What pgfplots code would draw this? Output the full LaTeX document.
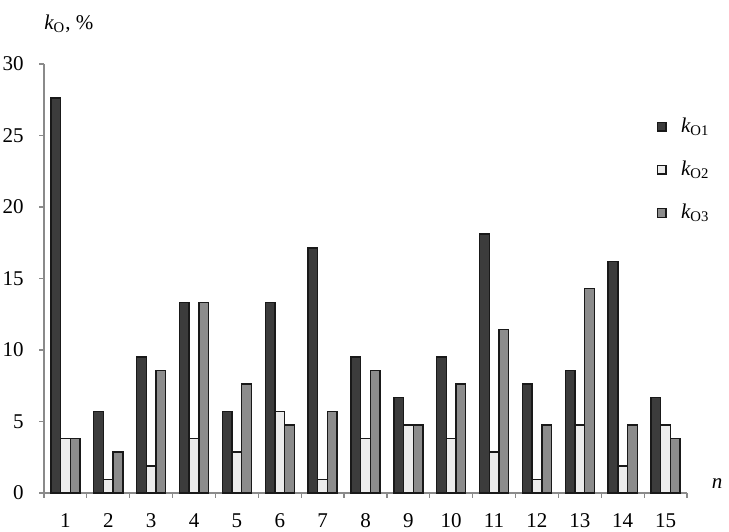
\documentclass[border=0pt]{standalone}
\usepackage{fontspec}
\setmainfont{Liberation Serif}
\usepackage{pgfplots}
\pgfplotsset{compat=1.18}
\definecolor{barA}{HTML}{3C3C3C}
\definecolor{barB}{HTML}{ECECEC}
\definecolor{barC}{HTML}{8C8C8C}
\definecolor{axisgray}{HTML}{8A8A8A}

\begin{document}
\begin{tikzpicture}
\begin{axis}[
  scale only axis,
  width=321.5pt, height=214.5pt,
  font=\fontsize{10.5}{12}\selectfont,
  /pgf/number format/assume math mode=true,
  xmin=0.5, xmax=15.5,
  ymin=0, ymax=30,
  ytick={0,5,...,30},
  xtick={0.5,1.5,...,15.5},
  x tick label as interval,
  xticklabels={1,2,3,4,5,6,7,8,9,10,11,12,13,14,15},
  axis lines*=left,
  axis line style={draw=axisgray, line width=0.7pt},
  tick style={draw=axisgray, line width=0.6pt},
  tick align=outside,
  major tick length=2.3pt,
  xticklabel style={yshift=-4.3pt},
  yticklabel style={xshift=-4.3pt},
  ybar=0pt,
  bar width=0.226,
  every axis plot/.append style={draw=black!90, line width=0.7pt},
  legend image code/.code={\draw[#1, line width=0.6pt] (0pt,-2.2pt) rectangle (4.4pt,2.2pt);
    \path[draw=none, fill=none] (0pt,0pt) (10pt,0pt);},
  legend style={draw=none, fill=none, at={(0.952,0.885)}, anchor=north west,
    row sep=8.8pt, inner sep=0pt, font=\fontsize{10.5}{12}\selectfont},
  legend cell align=left,
  clip=false,
]
% k_O1
\addplot[fill=barA] coordinates {
  (1,27.62) (2,5.71) (3,9.52) (4,13.33) (5,5.71) (6,13.33) (7,17.14) (8,9.52)
  (9,6.67) (10,9.52) (11,18.10) (12,7.62) (13,8.57) (14,16.19) (15,6.67)};
% k_O2
\addplot[fill=barB] coordinates {
  (1,3.81) (2,0.95) (3,1.90) (4,3.81) (5,2.86) (6,5.71) (7,0.95) (8,3.81)
  (9,4.76) (10,3.81) (11,2.86) (12,0.95) (13,4.76) (14,1.90) (15,4.76)};
% k_O3
\addplot[fill=barC] coordinates {
  (1,3.81) (2,2.86) (3,8.57) (4,13.33) (5,7.62) (6,4.76) (7,5.71) (8,8.57)
  (9,4.76) (10,7.62) (11,11.43) (12,4.76) (13,14.29) (14,4.76) (15,3.81)};
\legend{{\itshape k}\textsubscript{O1},{\itshape k}\textsubscript{O2},{\itshape k}\textsubscript{O3}}
\node[anchor=base west, inner sep=0pt] at ([yshift=17.5pt]rel axis cs:0,1)
  {{\itshape k}\textsubscript{O}, \%};
\node[anchor=base, inner sep=0pt] at ([xshift=15pt, yshift=2.5pt]rel axis cs:1,0)
  {\itshape n};
\end{axis}
\pgfresetboundingbox
\path (-22pt,-19pt) rectangle (342.5pt,246.5pt);
\end{tikzpicture}
\end{document}
